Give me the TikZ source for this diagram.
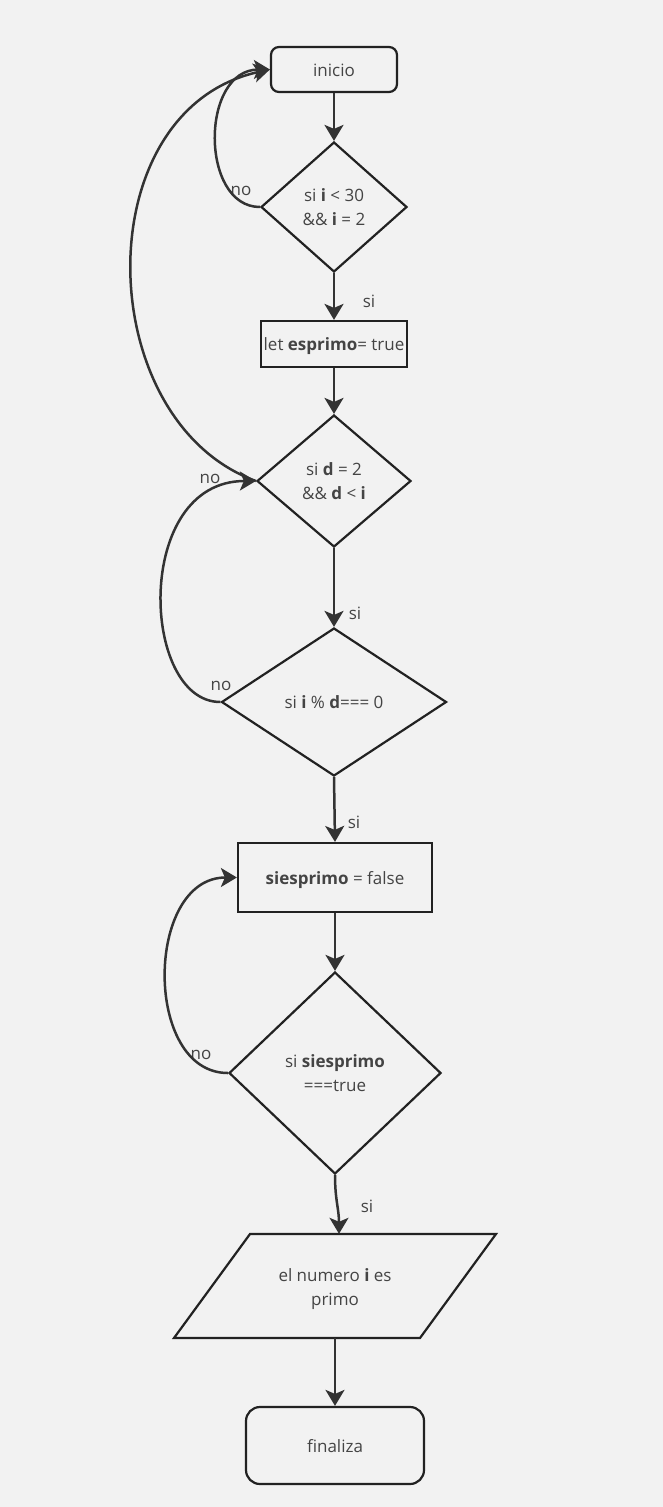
\documentclass[tikz,border=0pt]{standalone}
\usepackage{fontspec}
\setmainfont{Open Sans}
\usetikzlibrary{shapes.geometric,arrows.meta,calc}
\definecolor{bgc}{HTML}{F2F2F2}
\definecolor{boxc}{HTML}{222222}
\definecolor{linec}{HTML}{333333}
\definecolor{txtc}{HTML}{444444}
\begin{document}
\begin{tikzpicture}[x=1pt,y=-1pt,
  font=\fontsize{17}{24}\selectfont,
  box/.style={draw=boxc, line width=2.2pt, text=txtc, align=center, inner sep=0pt, rectangle},
  oneline/.style={text height=13.5pt, text depth=0pt},
  rbox/.style={box, oneline, rounded corners=#1},
  dia/.style={box, diamond},
  arr/.style={draw=linec, line width=2.5pt, -{Stealth[length=16pt,width=19pt,inset=4pt]}},
  lbl/.style={text=txtc, inner sep=0pt}
]
\fill[bgc] (0,0) rectangle (663,1507);
\useasboundingbox (0,0) rectangle (663,1507);

\node[rbox=8pt, minimum width=126pt, minimum height=45pt] (inicio) at (334,69.5) {inicio};
\node[dia, minimum width=146pt, minimum height=130pt] (d1) at (334,207) {si \textbf{i} < 30\\\&\& \textbf{i} = 2};
\node[box, oneline, minimum width=146pt, minimum height=46pt] (b1) at (334,344) {let \textbf{esprimo}= true};
\node[dia, minimum width=154pt, minimum height=132pt] (d2) at (334,481) {si \textbf{d} = 2\\\&\& \textbf{d} < \textbf{i}};
\node[dia, oneline, minimum width=225pt, minimum height=148pt] (d3) at (334,702) {si \textbf{i} \% \textbf{d}=== 0};
\node[box, oneline, minimum width=194pt, minimum height=69pt] (b2) at (335,877.5) {\textbf{siesprimo} = false};
\node[dia, minimum width=212pt, minimum height=202pt] (d4) at (335,1073) {si \textbf{siesprimo}\\===true};
\node[lbl, align=center, minimum width=246pt, minimum height=104pt, text height=39.5pt, text depth=1pt] (para) at (335,1286) {el numero \textbf{i} es\\primo};
\draw[draw=boxc, line width=2.2pt, line join=miter]
  ($(para.center)+(-85,-52)$) -- ($(para.center)+(161,-52)$) -- ($(para.center)+(85,52)$) -- ($(para.center)+(-161,52)$) -- cycle;
\node[rbox=14pt, minimum width=178pt, minimum height=77pt] (fin) at (335,1445.5) {finaliza};

% labels
\node[lbl] (si1) at (369,301) {si};
\node[lbl] (si2) at (355,613) {si};
\node[lbl] (si3) at (354,822) {si};
\node[lbl] (si4) at (367,1206) {si};
\node[lbl] (no1) at (241,191) {no};
\node[lbl] (no2) at (210,479) {no};
\node[lbl] (no3) at (221,686) {no};
\node[lbl] (no4) at (201,1055) {no};

% main flow
\draw[arr] (inicio.south) -- (d1.north);
\draw[arr] (d1.south) -- (b1.north);
\draw[arr] (b1.south) -- (d2.north);
\draw[arr] (d2.south) -- (d3.north);
\draw[arr] (d3.south) -- (b2.north);
\draw[arr] (b2.south) -- (d4.north);
\draw[arr] (d4.south) .. controls +(0,25) and +(0,-25) .. ([xshift=4pt]para.north);
\draw[arr] (para.south) -- (fin.north);

% loops
\draw[arr] (d1.west) .. controls +(-60,0) and +(-70,0) .. (inicio.west);
\draw[arr] (d2.west) .. controls +(-165,-60) and +(-185,40) .. (inicio.west);
\draw[arr] (d3.west) .. controls +(-80,0) and +(-123,0) .. (d2.west);
\draw[arr] (d4.west) .. controls +(-85,0) and +(-92,0) .. (b2.west);
\end{tikzpicture}
\end{document}
